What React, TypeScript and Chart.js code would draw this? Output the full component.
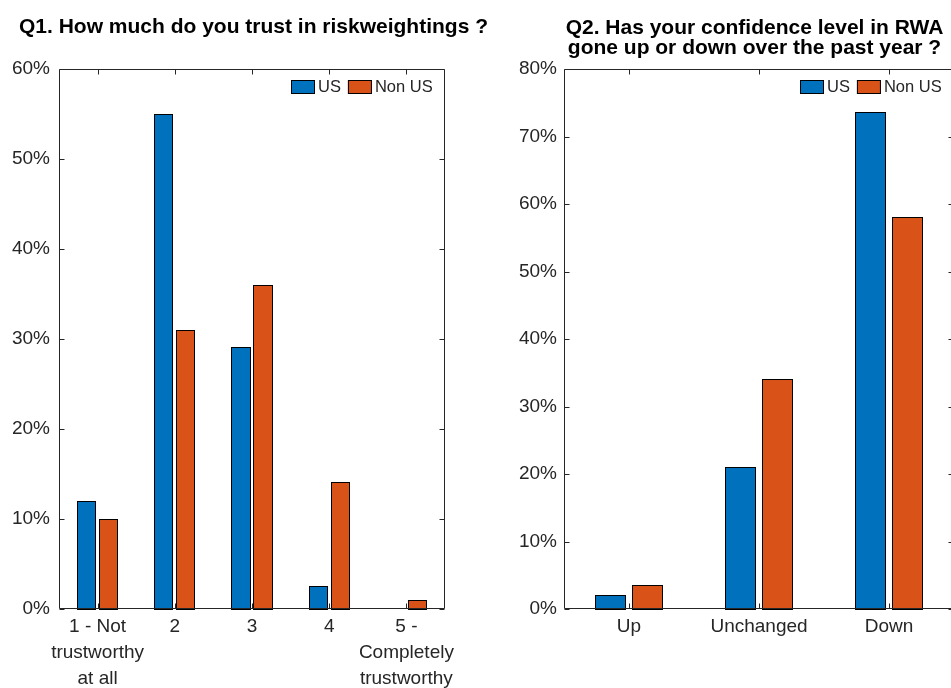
import React, { useEffect, useRef } from 'react';
import { Chart, registerables } from 'chart.js';

Chart.register(...registerables);

// ---------- data ----------
const seriesNames = ['US', 'Non US'];
const seriesColors = ['#0072BD', '#D95319'];

const q1Title = ['Q1. How much do you trust in riskweightings ?'];
const q1Categories: (string | string[])[] = [
  ['1 - Not', 'trustworthy', 'at all'],
  '2',
  '3',
  '4',
  ['5 -', 'Completely', 'trustworthy'],
];
const q1US = [12, 55, 29, 2.5, 0];
const q1NonUS = [10, 31, 36, 14, 1];
const q1YMax = 60;

const q2Title = ['Q2. Has your confidence level in RWA', 'gone up or down over the past year ?'];
const q2Categories = ['Up', 'Unchanged', 'Down'];
const q2US = [2, 21, 73.5];
const q2NonUS = [3.5, 34, 58];
const q2YMax = 80;

const yStep = 10;

// ---------- styling ----------
const FONT = '"Liberation Sans", Arial, Helvetica, sans-serif';
const AXIS_COLOR = '#262626';
const TICK_LEN = 5;

const framePlugin = {
  id: 'matlabFrame',
  afterDatasetsDraw(chart: any) {
    const { ctx, chartArea: a, scales } = chart;
    // crisp bar outlines over the library-positioned bars
    ctx.save();
    chart.data.datasets.forEach((ds: any, di: number) => {
      const meta = chart.getDatasetMeta(di);
      meta.data.forEach((el: any) => {
        const props = el.getProps(['x', 'y', 'base', 'width'], true);
        const l = Math.floor(props.x - props.width / 2);
        const r = Math.ceil(props.x + props.width / 2);
        const t = Math.floor(Math.min(props.y, props.base));
        const b = Math.round(Math.max(props.y, props.base));
        if (b - t < 1) return;
        ctx.fillStyle = ds.backgroundColor;
        ctx.fillRect(l, t, r - l, b - t);
        ctx.strokeStyle = '#000';
        ctx.lineWidth = 1;
        ctx.strokeRect(l + 0.5, t + 0.5, r - l - 1, b - t);
      });
    });
    ctx.restore();

    const L = Math.round(a.left) + 0.5;
    const R = Math.round(a.right) - 0.5;
    const T = Math.round(a.top) + 0.5;
    const B = Math.round(a.bottom) - 0.5;
    ctx.save();
    ctx.strokeStyle = AXIS_COLOR;
    ctx.lineWidth = 1;
    ctx.beginPath();
    ctx.rect(L, T, R - L, B - T);
    scales.y.ticks.forEach((t: any) => {
      const py = Math.round(scales.y.getPixelForValue(t.value)) + 0.5;
      ctx.moveTo(L, py);
      ctx.lineTo(L + TICK_LEN, py);
      ctx.moveTo(R, py);
      ctx.lineTo(R - TICK_LEN, py);
    });
    const n = chart.data.labels.length;
    for (let i = 0; i < n; i++) {
      const px = Math.round(scales.x.getPixelForValue(i)) + 0.5;
      ctx.moveTo(px, B);
      ctx.lineTo(px, B - TICK_LEN);
      ctx.moveTo(px, T);
      ctx.lineTo(px, T + TICK_LEN);
    }
    ctx.stroke();
    ctx.restore();
  },
};

const legendPlugin = {
  id: 'insideLegend',
  afterDraw(chart: any) {
    const { ctx, chartArea: a } = chart;
    const boxW = 24;
    const boxH = 14;
    const gapText = 3;
    const gapItem = 7;
    ctx.save();
    ctx.font = `16.5px ${FONT}`;
    const items = chart.data.datasets.map((d: any) => ({
      label: d.label,
      color: d.backgroundColor,
      w: ctx.measureText(d.label).width,
    }));
    let total = 0;
    items.forEach((it: any, i: number) => {
      total += boxW + gapText + it.w + (i < items.length - 1 ? gapItem : 0);
    });
    let x = Math.round(a.right - 12 - total);
    const y = Math.round(a.top + 11);
    items.forEach((it: any) => {
      ctx.fillStyle = it.color;
      ctx.fillRect(x, y, boxW, boxH);
      ctx.strokeStyle = '#000';
      ctx.lineWidth = 1;
      ctx.strokeRect(x + 0.5, y + 0.5, boxW - 1, boxH - 1);
      x += boxW + gapText;
      ctx.fillStyle = AXIS_COLOR;
      ctx.textBaseline = 'middle';
      ctx.textAlign = 'left';
      ctx.fillText(it.label, x, y + boxH / 2 + 0.5);
      x += it.w + gapItem;
    });
    ctx.restore();
  },
};

type Props = {
  left: number;
  width: number;
  height: number;
  title: string[];
  titleX: number;
  titleBaselines: number[];
  labels: (string | string[])[];
  us: number[];
  nonUs: number[];
  yMax: number;
  yAxisWidth: number;
  padRight: number;
  yTickPad: number;
  barPct: number;
};

function BarPanel(p: Props) {
  const ref = useRef<HTMLCanvasElement | null>(null);
  useEffect(() => {
    if (!ref.current) return;
    const titlePlugin = {
      id: 'matlabTitle',
      afterDraw(chart: any) {
        const { ctx } = chart;
        ctx.save();
        ctx.font = `bold 21px ${FONT}`;
        ctx.fillStyle = '#000';
        ctx.textAlign = 'center';
        ctx.textBaseline = 'alphabetic';
        p.title.forEach((line, i) => {
          ctx.fillText(line, p.titleX, p.titleBaselines[i]);
        });
        ctx.restore();
      },
    };
    const chart = new Chart(ref.current, {
      type: 'bar',
      data: {
        labels: p.labels as any,
        datasets: [
          {
            label: seriesNames[0],
            data: p.us,
            backgroundColor: seriesColors[0],
            borderWidth: 0,
            categoryPercentage: 0.57,
            barPercentage: p.barPct,
          },
          {
            label: seriesNames[1],
            data: p.nonUs,
            backgroundColor: seriesColors[1],
            borderWidth: 0,
            categoryPercentage: 0.57,
            barPercentage: p.barPct,
          },
        ],
      },
      options: {
        animation: false,
        responsive: false,
        devicePixelRatio: 1,
        layout: { padding: { left: 0, right: p.padRight, top: 69, bottom: 0 } },
        plugins: {
          legend: { display: false },
          tooltip: { enabled: false },
          title: { display: false },
        },
        scales: {
          x: {
            type: 'category',
            grid: { display: false, drawTicks: false },
            border: { display: false },
            ticks: {
              color: AXIS_COLOR,
              font: { family: FONT, size: 19, lineHeight: 1.36 },
              padding: 5,
              maxRotation: 0,
              minRotation: 0,
              autoSkip: false,
            },
            afterFit: (s: any) => {
              s.height = p.height - 609;
            },
          },
          y: {
            min: 0,
            max: p.yMax,
            grid: { display: false, drawTicks: false },
            border: { display: false },
            ticks: {
              stepSize: yStep,
              color: AXIS_COLOR,
              font: { family: FONT, size: 19 },
              padding: p.yTickPad,
              callback: (v: any) => `${v}%`,
            },
            afterFit: (s: any) => {
              s.width = p.yAxisWidth;
            },
          },
        },
      },
      plugins: [framePlugin, legendPlugin, titlePlugin],
    });
    return () => chart.destroy();
  }, []);
  return (
    <canvas
      ref={ref}
      width={p.width}
      height={p.height}
      style={{ position: 'absolute', left: p.left, top: 0, width: p.width, height: p.height }}
    />
  );
}

export default function App() {
  return (
    <div
      style={{
        position: 'fixed',
        left: 0,
        top: 0,
        width: 951,
        height: 688,
        overflow: 'hidden',
        background: '#fff',
      }}
    >
      <BarPanel
        left={0}
        width={506}
        height={688}
        title={q1Title}
        titleX={253.5}
        titleBaselines={[32.5]}
        labels={q1Categories}
        us={q1US}
        nonUs={q1NonUS}
        yMax={q1YMax}
        yAxisWidth={59}
        padRight={61}
        yTickPad={9}
        barPct={0.83}
      />
      <BarPanel
        left={480}
        width={550}
        height={688}
        title={q2Title}
        titleX={274.5}
        titleBaselines={[33.5, 53.5]}
        labels={q2Categories}
        us={q2US}
        nonUs={q2NonUS}
        yMax={q2YMax}
        yAxisWidth={84}
        padRight={76}
        yTickPad={7}
        barPct={0.81}
      />
    </div>
  );
}
